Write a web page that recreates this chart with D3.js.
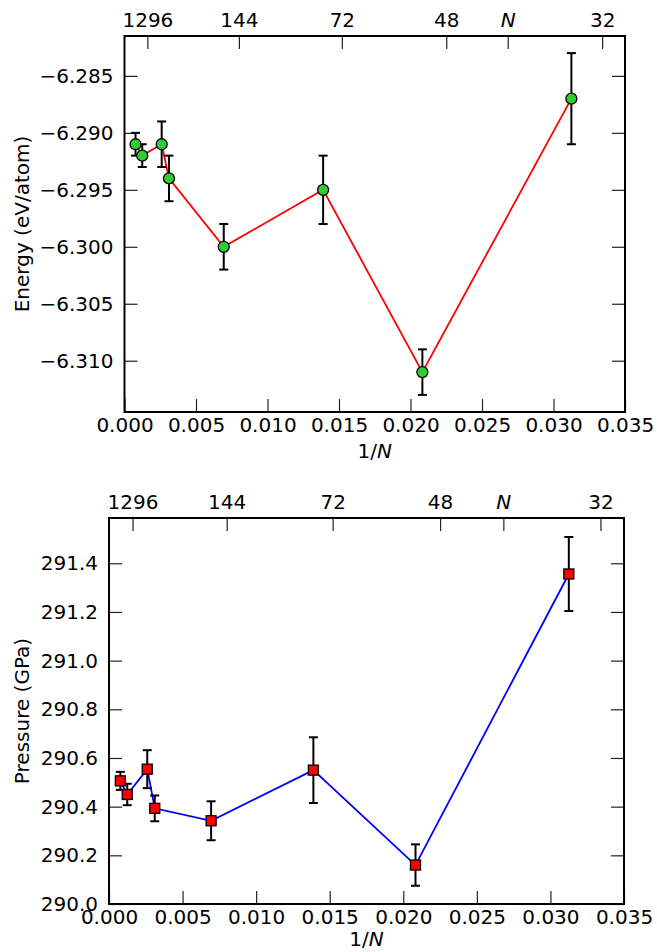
<!DOCTYPE html>
<html lang="en">
<head>
    <meta charset="UTF-8">
    <title>Energy and pressure vs 1/N</title>
    <script src="https://cdn.jsdelivr.net/npm/d3@7"></script>
    <style>
        body { margin: 0; background: #fff; }
        text { font-family: "DejaVu Sans", sans-serif; font-size: 20px; fill: #000; }
    </style>
</head>
<body>
    <script>
        // data
        var invN = [0.000772, 0.00124, 0.0026, 0.00311, 0.00694, 0.01389, 0.02083, 0.03125];
        var energy = [-6.291, -6.292, -6.291, -6.294, -6.300, -6.295, -6.311, -6.287];
        var energyErr = [0.001, 0.001, 0.002, 0.002, 0.002, 0.003, 0.002, 0.004];
        var pressure = [290.506, 290.450, 290.554, 290.393, 290.342, 290.55, 290.16, 291.356];
        var pressureErr = [0.037, 0.044, 0.078, 0.053, 0.08, 0.135, 0.085, 0.152];

        var xTicks = [0, 0.005, 0.010, 0.015, 0.020, 0.025, 0.030, 0.035];
        var energyTicks = [-6.285, -6.290, -6.295, -6.300, -6.305, -6.310];
        var pressureTicks = [290.0, 290.2, 290.4, 290.6, 290.8, 291.0, 291.2, 291.4];
        var topTickLabels = ["1296", "144", "72", "48", "N", "32"];
        var topTickPos = [0.0016, 0.0080, 0.0152, 0.0225, 0.0268, 0.0334];

        var svg = d3.select("body").append("svg")
                .attr("width", 657).attr("height", 952);

        var tickLen = 13;

        /* one panel */
        function panel(opt) {
            var g = svg.append("g");
            var x = d3.scaleLinear().domain([0, 0.035]).range([opt.left, opt.right]);
            var y = d3.scaleLinear().domain(opt.yDomain).range([opt.bottom, opt.top]);
            var pts = invN.map(function(d, i){ return {x: d, y: opt.vals[i], e: opt.errs[i]}; });

            // axes (ticks pointing inward)
            g.append("g").attr("transform", "translate(0," + opt.bottom + ")")
                .call(d3.axisBottom(x).tickValues(xTicks).tickFormat(d3.format(".3f"))
                    .tickSizeInner(-tickLen).tickSizeOuter(0).tickPadding(6));
            g.append("g").attr("transform", "translate(" + opt.left + ",0)")
                .call(d3.axisLeft(y).tickValues(opt.yTicks).tickFormat(opt.yFormat)
                    .tickSizeInner(-tickLen).tickSizeOuter(0).tickPadding(11));
            g.append("g").attr("transform", "translate(" + opt.right + ",0)")
                .call(d3.axisRight(y).tickValues(opt.yTicks).tickFormat("")
                    .tickSizeInner(-tickLen).tickSizeOuter(0));
            var top = g.append("g").attr("transform", "translate(0," + opt.top + ")")
                .call(d3.axisTop(x).tickValues(topTickPos)
                    .tickFormat(function(d, i){ return topTickLabels[i]; })
                    .tickSizeInner(-tickLen).tickSizeOuter(0).tickPadding(9));
            top.selectAll("text").filter(function(d, i){ return topTickLabels[i] === "N"; })
                .style("font-style", "italic");

            g.selectAll(".domain").remove();
            g.selectAll(".tick line").attr("stroke", "#222").attr("stroke-width", 1.2);
            g.selectAll(".tick text").attr("font-family", null).attr("font-size", null);

            // frame
            g.append("rect")
                .attr("x", opt.left).attr("y", opt.top)
                .attr("width", opt.right - opt.left).attr("height", opt.bottom - opt.top)
                .attr("fill", "none").attr("stroke", "#000").attr("stroke-width", 2);

            // connecting line
            g.append("path").datum(pts)
                .attr("fill", "none").attr("stroke", opt.lineColor).attr("stroke-width", 1.8)
                .attr("d", d3.line().x(function(d){ return x(d.x); }).y(function(d){ return y(d.y); }));

            // error bars
            var eb = g.selectAll(".err").data(pts).enter().append("g")
                .attr("stroke", "#000").attr("stroke-width", 2);
            eb.append("line")
                .attr("x1", function(d){ return x(d.x); }).attr("x2", function(d){ return x(d.x); })
                .attr("y1", function(d){ return y(d.y - d.e); }).attr("y2", function(d){ return y(d.y + d.e); });
            [-1, 1].forEach(function(s){
                eb.append("line")
                    .attr("x1", function(d){ return x(d.x) - 4.5; }).attr("x2", function(d){ return x(d.x) + 4.5; })
                    .attr("y1", function(d){ return y(d.y + s * d.e); }).attr("y2", function(d){ return y(d.y + s * d.e); });
            });

            // markers
            if (opt.marker === "circle") {
                g.selectAll(".mk").data(pts).enter().append("circle")
                    .attr("cx", function(d){ return x(d.x); }).attr("cy", function(d){ return y(d.y); })
                    .attr("r", 5.5)
                    .attr("fill", opt.markerColor).attr("stroke", "#000").attr("stroke-width", 1.3);
            } else {
                g.selectAll(".mk").data(pts).enter().append("rect")
                    .attr("x", function(d){ return x(d.x) - 5; }).attr("y", function(d){ return y(d.y) - 5; })
                    .attr("width", 10).attr("height", 10)
                    .attr("fill", opt.markerColor).attr("stroke", "#000").attr("stroke-width", 1.3);
            }

            // axis titles
            var xl = g.append("text").attr("x", (opt.left + opt.right) / 2).attr("y", opt.xLabelY)
                .attr("text-anchor", "middle").text("1/");
            xl.append("tspan").style("font-style", "italic").text("N");
            g.append("text")
                .attr("transform", "translate(29," + ((opt.top + opt.bottom) / 2) + ") rotate(-90)")
                .attr("text-anchor", "middle").text(opt.yLabel);
        }

        panel({
            left: 124.5, right: 625, top: 36, bottom: 412,
            yDomain: [-6.3145, -6.2815], yTicks: energyTicks,
            yFormat: function(d){ return d3.format(".3f")(d).replace("-", "\u2212"); },
            vals: energy, errs: energyErr,
            lineColor: "#ff0000", marker: "circle", markerColor: "#33cc33",
            yLabel: "Energy (eV/atom)", xLabelY: 458
        });

        panel({
            left: 109, right: 624, top: 518, bottom: 904,
            yDomain: [290.0, 291.586], yTicks: pressureTicks,
            yFormat: d3.format(".1f"),
            vals: pressure, errs: pressureErr,
            lineColor: "#0000ff", marker: "square", markerColor: "#ff0000",
            yLabel: "Pressure (GPa)", xLabelY: 946
        });
    </script>
</body>
</html>
